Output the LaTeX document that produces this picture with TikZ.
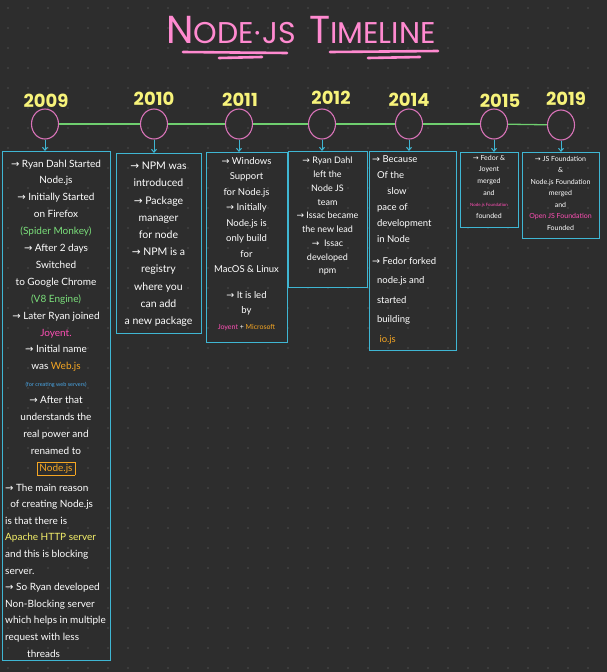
\documentclass[tikz,border=0pt]{standalone}
\usepackage{fontspec}
\setmainfont{Lato}
\newfontfamily\titlefont{Poppins}
\newfontfamily\arrowfont{DejaVu Sans}
\usetikzlibrary{arrows.meta,shapes.geometric}
\definecolor{bg}{HTML}{2D2D2D}
\definecolor{dotc}{HTML}{4C4C4C}
\definecolor{cyanc}{HTML}{3FB6D3}
\definecolor{linkc}{HTML}{6FCF6F}
\definecolor{circc}{HTML}{D873B8}
\definecolor{yearc}{HTML}{F7F37A}
\definecolor{titlec}{HTML}{FF8AD0}
\definecolor{greenc}{HTML}{7BE07B}
\definecolor{pinkc}{HTML}{FF4FB5}
\definecolor{orangec}{HTML}{F5A623}
\definecolor{bluec}{HTML}{4AA8E8}
\definecolor{hlyellow}{HTML}{F5F06A}
\newcommand\myarr{{\arrowfont\char"2192}}
\begin{document}
\begin{tikzpicture}[x=1pt,y=-1pt,
  yearlabel/.style={text=yearc,font=\titlefont\bfseries\fontsize{18}{18}\selectfont,inner sep=0},
  yc/.style={ellipse,draw=circc,line width=1.1pt,minimum width=27,minimum height=30,inner sep=0},
  link/.style={draw=linkc,line width=1.3pt},
  box/.style={draw=cyanc,line width=1.2pt,inner sep=0},
  conn/.style={draw=cyanc,line width=1pt,-{Straight Barb[length=3pt,width=5pt]}},
  txt/.style={text=white,inner sep=0,align=center}]
\fill[bg] (0,0) rectangle (607,672);
\useasboundingbox (0,0) rectangle (607,672);
\foreach \i in {0,...,30}{\foreach \j in {0,...,33}{\fill[dotc] (\i*20+8,\j*20+8) circle (0.8pt);}}
% title
\node[text=titlec,inner sep=0] (title) at (301,30) {\titlefont{\fontsize{39}{39}\selectfont N}\fontsize{30}{30}\selectfont ODE\kern1pt\char"00B7\kern1pt JS\hspace{0.45em}{\fontsize{39}{39}\selectfont T}IMELINE};
\draw[titlec,line width=2.6pt,line cap=round] (183,52) -- (287,53);
\draw[titlec,line width=2.6pt,line cap=round] (219,58) -- (262,57);
\draw[titlec,line width=2.6pt,line cap=round] (330,52) -- (438,51);
\draw[titlec,line width=2.6pt,line cap=round] (368,58) -- (420,57);
% years
\node[yearlabel] (y2009) at (46,101) {2009};
\node[yearlabel] (y2010) at (154,99) {2010};
\node[yearlabel] (y2011) at (240,100) {2011};
\node[yearlabel] (y2012) at (331,98) {2012};
\node[yearlabel] (y2014) at (409,100) {2014};
\node[yearlabel] (y2015) at (500,101) {2015};
\node[yearlabel] (y2019) at (566,99) {2019};
% circles
\node[yc] (c2009) at (45,124) {};
\node[yc] (c2010) at (154,124) {};
\node[yc] (c2011) at (239,124) {};
\node[yc] (c2012) at (322,124) {};
\node[yc] (c2014) at (409,124) {};
\node[yc] (c2015) at (494,124) {};
\node[yc] (c2019) at (561,125) {};
\draw[link] (c2009) -- (c2010);
\draw[link] (c2010) -- (c2011);
\draw[link] (c2011) -- (c2012);
\draw[link] (c2012) -- (c2014);
\draw[link] (c2014) -- (c2015);
\draw[link] (c2015) -- (c2019);
% boxes
\node[box,anchor=north west,minimum width=108,minimum height=509] (b2009) at (2,151) {};
\node[box,anchor=north west,minimum width=85,minimum height=180] (b2010) at (116,153) {};
\node[box,anchor=north west,minimum width=81,minimum height=190] (b2011) at (206,152) {};
\node[box,anchor=north west,minimum width=79,minimum height=136] (b2012) at (288,151) {};
\node[box,anchor=north west,minimum width=87,minimum height=199] (b2014) at (369,151) {};
\node[box,anchor=north west,minimum width=58,minimum height=75] (b2015) at (460,152) {};
\node[box,anchor=north west,minimum width=77,minimum height=86] (b2019) at (522,152) {};
\foreach \n in {2009,2010,2011,2012,2014,2015,2019}{\draw[conn] (c\n.south) -- (c\n.south |- b\n.north);}
% texts
\node[txt,anchor=north,font=\fontsize{10}{16.9}\selectfont] (t2009a) at (56,159.5) {%
\myarr\ Ryan Dahl Started\\
Node.js\\
\myarr\ Initially Started\\
on Firefox\\
\textcolor{greenc}{(Spider Monkey)}\\
\myarr\ After 2 days\\
Switched\\
to Google Chrome\\
\textcolor{greenc}{(V8 Engine)}\\
\myarr\ Later Ryan joined\\
\textcolor{pinkc}{Joyent.}\\
\myarr\ Initial name\\
was \textcolor{orangec}{Web.js}\\
{\fontsize{5.5}{5.5}\selectfont\textcolor{bluec}{(for creating web servers)}}\\
\myarr\ After that\\
understands the\\
real power and\\
renamed to\\
{\setlength\fboxsep{2pt}\fcolorbox{orangec}{bg}{\textcolor{orangec}{Node.js}}}};
\node[txt,align=left,anchor=north west,font=\fontsize{10}{16.6}\selectfont] (t2009b) at (5,483.5) {%
\myarr\ The main reason\\
\ \ of creating Node.js\\
is that there is\\
\textcolor{hlyellow}{Apache HTTP server}\\
and this is blocking\\
server.\\
\myarr\ So Ryan developed\\
Non-Blocking server\\
which helps in multiple\\
request with less\\
\hspace{2.2em}threads};
\node[txt,anchor=north,font=\fontsize{10.5}{17.2}\selectfont] (t2010) at (158.5,162) {%
\myarr\ NPM was\\
introduced\\
\myarr\ Package\\
manager\\
for node\\
\myarr\ NPM is a\\
registry\\
where you\\
can add\\
a new package};
\node[txt,anchor=north,font=\fontsize{9.5}{15.5}\selectfont] (t2011) at (246.5,157) {%
\myarr\ Windows\\
Support\\
for Node.js\\
\myarr\ Initially\\
Node.js is\\
only build\\
for\\
MacOS \& Linux\\[10pt]
\myarr\ It is led\\
by\\
{\fontsize{7}{7}\selectfont\textcolor{pinkc}{Joyent} + \textcolor{orangec}{Microsoft}}};
\node[txt,anchor=north,font=\fontsize{9}{13.75}\selectfont] (t2012) at (327.5,157) {%
\myarr\ Ryan Dahl\\
left the\\
Node JS\\
team\\
\myarr\ Issac became\\
the new lead\\
\myarr\ \ Issac\\
developed\\
npm};
\node[txt,align=left,anchor=north west,font=\fontsize{9.5}{16}\selectfont] (t2014) at (372,155) {%
\myarr\ Because\\
\ \ Of the\\
\hspace{1.6em}slow\\
\ \ pace of\\
\ \ development\\
\ \ in Node\\[6pt]
\myarr\ Fedor forked\\[3.5pt]
\ \ node.js and\\[3.5pt]
\ \ started\\[3.5pt]
\ \ building\\[3.5pt]
\ \ \ \textcolor{orangec}{io.js}};
\node[txt,anchor=north,font=\fontsize{7}{11.6}\selectfont] (t2015) at (489,155) {%
\myarr\ Fedor \&\\
Joyent\\
merged\\
and\\
{\fontsize{4.4}{4.4}\selectfont\textcolor{pinkc}{Node.js Foundation}}\\
founded};
\node[txt,anchor=north,font=\fontsize{7}{11.5}\selectfont] (t2019) at (560.5,156) {%
\myarr\ JS Foundation\\
\&\\
Node.js Foundation\\
merged\\
and\\
\textcolor{pinkc}{Open JS Foundation}\\
Founded};
\end{tikzpicture}
\end{document}
